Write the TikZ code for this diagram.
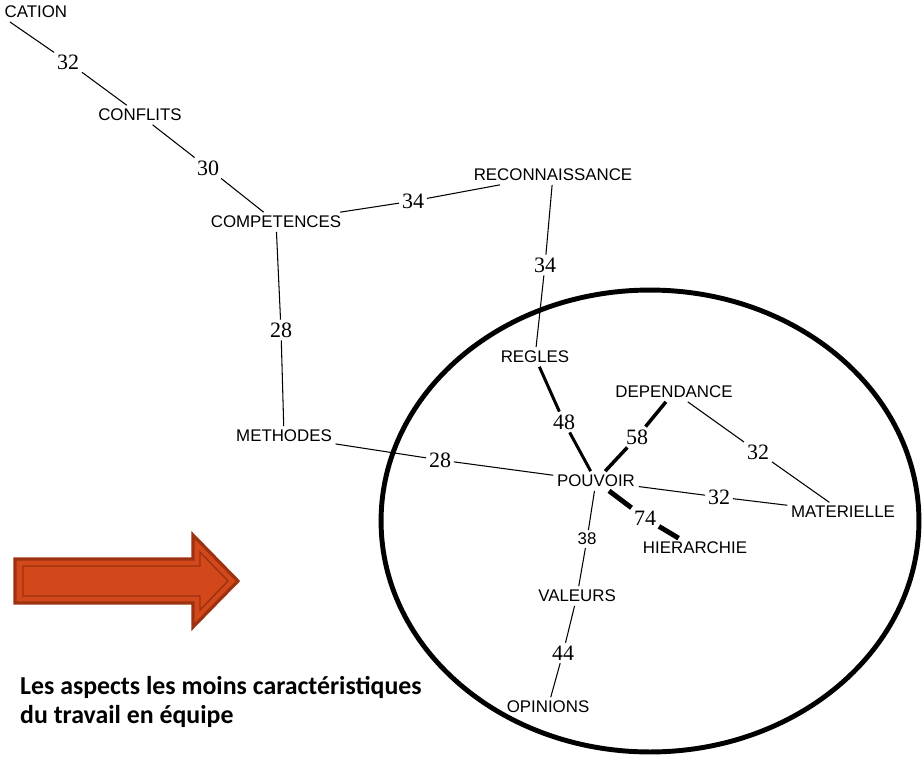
\documentclass[tikz,border=0pt]{standalone}
\usepackage{fontspec}
\setmainfont{Liberation Sans}
\newfontfamily\weightfont{Liberation Serif}
\newfontfamily\notefont{Carlito}
\definecolor{arrowfill}{RGB}{210,72,26}
\definecolor{arrowline}{RGB}{156,50,16}
\tikzset{
	concept/.style={font=\fontsize{9.6}{11}\selectfont, inner sep=2pt},
	weight/.style={font=\weightfont\fontsize{12.5}{14}\selectfont, inner sep=1.5pt},
	link/.style={line width=0.6pt},
}
\begin{document}
\begin{tikzpicture}[x=0.02cm, y=-0.02cm]
				\useasboundingbox (0,0) rectangle (922,757);

				% Concepts
				\node[concept, anchor=east] (cation) at (71,12) {CATION};
				\coordinate (cv) at (10,22);
				\node[concept] (conflits) at (140,115) {CONFLITS};
				\node[concept] (competences) at (276,222) {COMPETENCES};
				\node[concept] (reconnaissance) at (553,175) {RECONNAISSANCE};
				\node[concept] (regles) at (535,357) {REGLES};
				\node[concept] (methodes) at (284,436) {METHODES};
				\node[concept] (dependance) at (674,392) {DEPENDANCE};
				\node[concept] (pouvoir) at (596,481) {POUVOIR};
				\node[concept] (materielle) at (843,512) {MATERIELLE};
				\node[concept] (hierarchie) at (695,548) {HIERARCHIE};
				\node[concept] (valeurs) at (577,596) {VALEURS};
				\node[concept] (opinions) at (548,707) {OPINIONS};

				% Weights
				\node[weight] (w1) at (68,62) {32};
				\node[weight] (w2) at (208,168) {30};
				\node[weight] (w3) at (413,201) {34};
				\node[weight] (w4) at (545,265) {34};
				\node[weight] (w5) at (281,330) {28};
				\node[weight] (w6) at (440,460) {28};
				\node[weight] (w7) at (564,422) {48};
				\node[weight] (w8) at (637,437) {58};
				\node[weight] (w9) at (758,452) {32};
				\node[weight] (w10) at (719,497) {32};
				\node[weight] (w11) at (645,518) {74};
				\node[concept, inner sep=1.5pt] (w12) at (587,539) {38};
				\node[weight] (w13) at (563,653) {44};

				% Links
				\draw[link] (cv) -- (w1) -- (conflits);
				\draw[link] (conflits) -- (w2) -- (competences);
				\draw[link] (competences) -- (w3) -- (reconnaissance);
				\draw[link] (reconnaissance) -- (w4) -- (regles);
				\draw[link] (competences) -- (w5) -- (methodes);
				\draw[link] (methodes) -- (w6) -- (pouvoir);
				\draw[line width=1.7pt] (regles) -- (w7) -- (pouvoir);
				\draw[line width=2pt] (dependance) -- (w8) -- (pouvoir);
				\draw[link] (dependance) -- (w9) -- (materielle);
				\draw[link] (pouvoir) -- (w10) -- (materielle);
				\draw[line width=2.8pt] (pouvoir) -- (w11) -- (hierarchie);
				\draw[link] (pouvoir) -- (w12) -- (valeurs);
				\draw[link] (valeurs) -- (w13) -- (opinions);

				% Circle round the core
				\draw[line width=2.8pt] (650,521) ellipse [x radius=5.38cm, y radius=4.62cm];

				% Arrow
				\draw[fill=arrowfill, draw=arrowline, line width=1.8pt, line join=miter]
					(15,559) -- (193,559) -- (193,535) -- (238,581) -- (193,627) -- (193,603) -- (15,603) -- cycle;
				\draw[draw=arrowline, line width=0.8pt]
					(23,566) -- (200,566) -- (200,552) -- (228,581) -- (200,610) -- (200,596) -- (23,596) -- cycle;

				% Note
				\node[anchor=west, align=left, font=\notefont\bfseries\fontsize{14.7}{17}\selectfont] (note) at (14,702)
					{Les aspects les moins caractéristiques\\du travail en équipe};
			\end{tikzpicture}
\end{document}
